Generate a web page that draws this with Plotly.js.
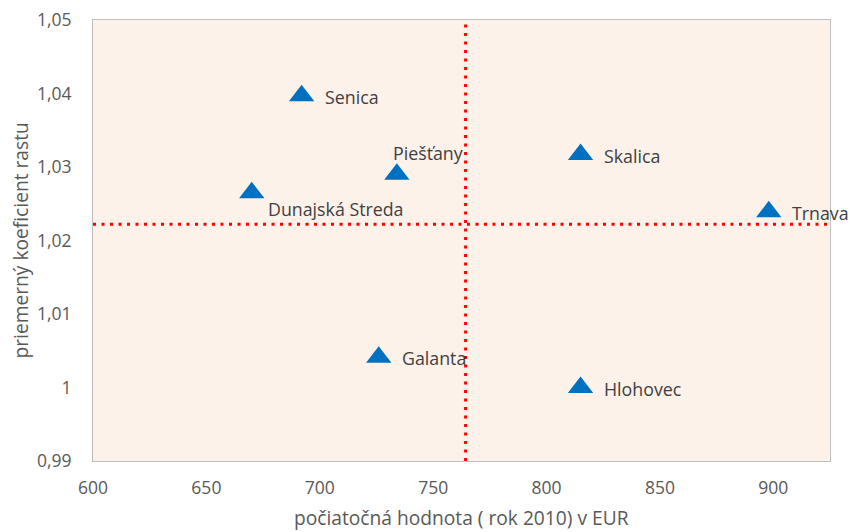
<!DOCTYPE html>
<html>
<head>
<meta charset="utf-8">
<script src="https://cdn.plot.ly/plotly-3.0.1.min.js"></script>
<style>html,body{margin:0;padding:0;background:#fff;}#chart{width:850px;height:532px;}</style>
</head>
<body>
<div id="chart"></div>
<script>
// Data
const districts = ["Senica", "Piešťany", "Dunajská Streda", "Skalica", "Trnava", "Galanta", "Hlohovec"];
const initialValue = [692, 734, 670, 815, 898, 726, 815];        // počiatočná hodnota (rok 2010) v EUR
const growthCoef = [1.0397, 1.0290, 1.0265, 1.0317, 1.0239, 1.0041, 1.0000]; // priemerný koeficient rastu
const refX = 764.3;   // vertical dotted reference line
const refY = 1.0222;  // horizontal dotted reference line
const xTickVals = [600, 650, 700, 750, 800, 850, 900];
const yTickVals = [0.99, 1.00, 1.01, 1.02, 1.03, 1.04, 1.05];
const yTickLabels = ["0,99", "1", "1,01", "1,02", "1,03", "1,04", "1,05"];

// label placement (pixel offsets from marker)
const labelOffsets = {
  "Piešťany": {dx: -6, dy: 21},
  "Dunajská Streda": {dx: 14, dy: -16}
};
const defaultOffset = {dx: 21, dy: -1};

const FONT = "'Open Sans', 'Noto Sans', sans-serif";

const trace = {
  type: "scatter",
  mode: "markers",
  x: initialValue,
  y: growthCoef,
  marker: {symbol: "triangle-up", size: 22, color: "#0070C0", line: {width: 0}},
  hoverinfo: "text",
  text: districts,
  showlegend: false
};

const annotations = districts.map((name, i) => {
  const o = labelOffsets[name] || defaultOffset;
  return {
    x: initialValue[i], y: growthCoef[i], xref: "x", yref: "y",
    text: name, showarrow: false, xanchor: "left", yanchor: "middle",
    xshift: o.dx, yshift: o.dy,
    font: {family: FONT, size: 17.8, color: "#404040"}
  };
});

annotations.push({
  xref: "paper", yref: "paper", x: 0.5, y: -0.127, yanchor: "middle", xanchor: "center",
  text: "počiatočná hodnota ( rok 2010) v EUR", showarrow: false, borderpad: 0,
  font: {family: FONT, size: 19.2, color: "#595959"}
});
annotations.push({
  xref: "paper", yref: "paper", x: -0.099, y: 0.5, xanchor: "center", yanchor: "middle",
  text: "priemerný koeficient rastu", textangle: -90, showarrow: false, borderpad: 0,
  font: {family: FONT, size: 19.2, color: "#595959"}
});

const dotLine = {color: "#FF0000", width: 3, dash: "3px,5.5px"};

const layout = {
  width: 850, height: 532,
  margin: {l: 93, r: 20, t: 20, b: 71},
  paper_bgcolor: "#FFFFFF",
  plot_bgcolor: "#FDF2EA",
  separators: ", ",
  font: {family: FONT, color: "#595959"},
  xaxis: {
    range: [600, 925], tickvals: xTickVals, showgrid: false, zeroline: false,
    showline: true, linecolor: "#BFBFBF", linewidth: 1, mirror: true,
    ticks: "", ticklabelstandoff: 11,
    tickfont: {family: FONT, size: 17.5, color: "#595959"}
  },
  yaxis: {
    range: [0.99, 1.05], tickvals: yTickVals, ticktext: yTickLabels, showgrid: false, zeroline: false,
    showline: true, linecolor: "#BFBFBF", linewidth: 1, mirror: true,
    ticks: "", ticklabelstandoff: 17,
    tickfont: {family: FONT, size: 17.5, color: "#595959"}
  },
  shapes: [
    {type: "line", xref: "x", yref: "y", x0: refX, x1: refX, y0: 0.99, y1: 1.05, line: dotLine, layer: "below"},
    {type: "line", xref: "x", yref: "y", x0: 600, x1: 925, y0: refY, y1: refY, line: dotLine, layer: "below"}
  ],
  annotations: annotations
};

Plotly.newPlot("chart", [trace], layout, {displayModeBar: false, staticPlot: true});
</script>
</body>
</html>
